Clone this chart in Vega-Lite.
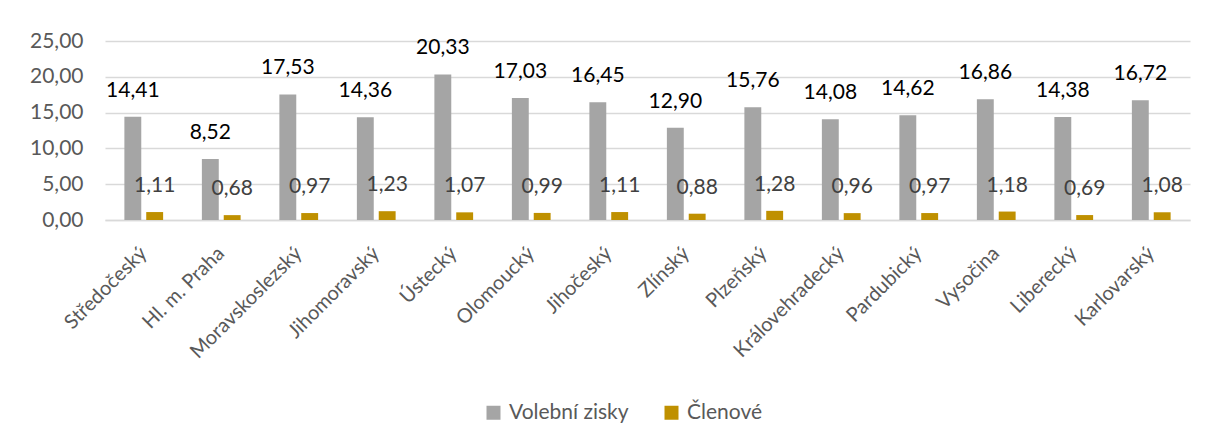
{
  "$schema": "https://vega.github.io/schema/vega-lite/v6.json",
  "width": 1085,
  "height": 179,
  "autosize": "none",
  "padding": {"left": 105, "top": 41, "right": 17, "bottom": 224},
  "background": "white",
  "config": {
    "font": "Lato",
    "view": {"stroke": null},
    "locale": {"number": {"decimal": ",", "thousands": " ", "grouping": [3], "currency": ["", " Kč"]}}
  },
  "data": {
    "values": [
      {"region": "Středočeský", "series": "Volební zisky", "value": 14.41},
      {"region": "Středočeský", "series": "Členové", "value": 1.11},
      {"region": "Hl. m. Praha", "series": "Volební zisky", "value": 8.52},
      {"region": "Hl. m. Praha", "series": "Členové", "value": 0.68},
      {"region": "Moravskoslezský", "series": "Volební zisky", "value": 17.53},
      {"region": "Moravskoslezský", "series": "Členové", "value": 0.97},
      {"region": "Jihomoravský", "series": "Volební zisky", "value": 14.36},
      {"region": "Jihomoravský", "series": "Členové", "value": 1.23},
      {"region": "Ústecký", "series": "Volební zisky", "value": 20.33},
      {"region": "Ústecký", "series": "Členové", "value": 1.07},
      {"region": "Olomoucký", "series": "Volební zisky", "value": 17.03},
      {"region": "Olomoucký", "series": "Členové", "value": 0.99},
      {"region": "Jihočeský", "series": "Volební zisky", "value": 16.45},
      {"region": "Jihočeský", "series": "Členové", "value": 1.11},
      {"region": "Zlínský", "series": "Volební zisky", "value": 12.90},
      {"region": "Zlínský", "series": "Členové", "value": 0.88},
      {"region": "Plzeňský", "series": "Volební zisky", "value": 15.76},
      {"region": "Plzeňský", "series": "Členové", "value": 1.28},
      {"region": "Královehradecký", "series": "Volební zisky", "value": 14.08},
      {"region": "Královehradecký", "series": "Členové", "value": 0.96},
      {"region": "Pardubický", "series": "Volební zisky", "value": 14.62},
      {"region": "Pardubický", "series": "Členové", "value": 0.97},
      {"region": "Vysočina", "series": "Volební zisky", "value": 16.86},
      {"region": "Vysočina", "series": "Členové", "value": 1.18},
      {"region": "Liberecký", "series": "Volební zisky", "value": 14.38},
      {"region": "Liberecký", "series": "Členové", "value": 0.69},
      {"region": "Karlovarský", "series": "Volební zisky", "value": 16.72},
      {"region": "Karlovarský", "series": "Členové", "value": 1.08}
    ]
  },
  "encoding": {
    "x": {
      "field": "region", "type": "nominal", "sort": null, "title": null,
      "scale": {"paddingInner": 0.5, "paddingOuter": 0.25},
      "axis": {
        "labelAngle": -45, "labelAlign": "right", "labelBaseline": "middle",
        "labelFontSize": 20, "labelColor": "#595959", "labelPadding": 30,
        "ticks": false, "domainColor": "#D9D9D9", "domainWidth": 1.5, "grid": false
      }
    },
    "xOffset": {"field": "series", "type": "nominal", "sort": ["Volební zisky", "Členové"], "scale": {"paddingInner": 0.227}},
    "y": {
      "field": "value", "type": "quantitative", "title": null,
      "scale": {"domain": [0, 25]},
      "axis": {
        "values": [0, 5, 10, 15, 20, 25], "format": ".2f",
        "labelFontSize": 21, "labelColor": "#595959", "labelPadding": 22,
        "ticks": false, "domain": false, "gridColor": "#D9D9D9", "gridWidth": 1.5
      }
    }
  },
  "layer": [
    {
      "mark": {"type": "bar"},
      "encoding": {
        "color": {
          "field": "series", "type": "nominal", "sort": ["Volební zisky", "Členové"],
          "scale": {"domain": ["Volební zisky", "Členové"], "range": ["#A5A5A5", "#BF9000"]},
          "legend": {
            "title": null, "orient": "none", "direction": "horizontal",
            "legendX": 378, "legendY": 361,
            "symbolType": "square", "symbolSize": 196, "symbolStrokeWidth": 0,
            "labelFontSize": 21, "labelColor": "#595959", "columnPadding": 32, "labelOffset": 5
          }
        }
      }
    },
    {
      "mark": {"type": "text", "baseline": "middle", "dy": -26, "fontSize": 21},
      "encoding": {
        "text": {"field": "value", "type": "quantitative", "format": ".2f"},
        "color": {"condition": {"test": "datum.series === 'Členové'", "value": "#404040"}, "value": "#000000"}
      }
    }
  ]
}
